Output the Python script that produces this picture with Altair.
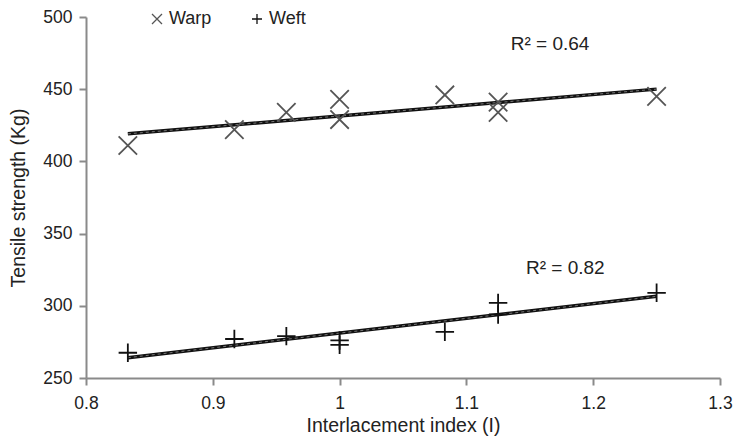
import altair as alt
import pandas as pd

# Data
warp_x = [0.833, 0.917, 0.958, 1.0, 1.0, 1.083, 1.125, 1.125, 1.25]
warp_y = [411, 422, 434, 443, 429, 446, 441, 434, 445]
weft_x = [0.833, 0.917, 0.958, 1.0, 1.0, 1.083, 1.125, 1.125, 1.25]
weft_y = [267.5, 277, 279, 276, 273, 282, 302, 294, 309]
r2_labels = ["R\u00b2 = 0.64", "R\u00b2 = 0.82"]
r2_x = [1.166, 1.178]
r2_y = [481, 326]

series = ["Warp", "Weft"]
df = pd.DataFrame(
    {"x": warp_x + weft_x,
     "y": warp_y + weft_y,
     "s": ["Warp"] * len(warp_x) + ["Weft"] * len(weft_x)}
)
lab = pd.DataFrame({"t": r2_labels, "x": r2_x, "y": r2_y})

FONT = "Liberation Sans"
X_PATH = "M-1,-1L1,1M1,-1L-1,1"
P_PATH = "M-1,0L1,0M0,-1L0,1"

xs = alt.Scale(domain=[0.8, 1.3], nice=False)
ys = alt.Scale(domain=[250, 500], nice=False, zero=False)

xenc = alt.X("x:Q", scale=xs, title="Interlacement index (I)",
             axis=alt.Axis(values=[0.8, 0.9, 1.0, 1.1, 1.2, 1.3], format="~g",
                           labelFlush=False, labelPadding=9, titlePadding=5))
yenc = alt.Y("y:Q", scale=ys, title="Tensile strength (Kg)",
             axis=alt.Axis(values=[250, 300, 350, 400, 450, 500],
                           labelFlush=False, labelPadding=7, titlePadding=14))

leg = alt.Legend(title=None, orient="none", legendX=62, legendY=-7,
                 direction="horizontal", symbolSize=100, padding=0,
                 symbolStrokeWidth=1.3, labelFontSize=18,
                 labelFont=FONT, labelColor="#222",
                 columnPadding=36, labelOffset=3)

base = alt.Chart(df)

lines = base.transform_regression("x", "y", groupby=["s"]).mark_line(
    color="#111", strokeWidth=3.5
).encode(x=xenc, y=yenc, detail="s:N")

dash = base.transform_regression("x", "y", groupby=["s"]).mark_line(
    color="#777", strokeWidth=1, strokeDash=[3, 3]
).encode(x=xenc, y=yenc, detail="s:N")

pts = base.mark_point(filled=False, strokeWidth=1.8, size=340, opacity=1).encode(
    x=xenc, y=yenc,
    shape=alt.Shape("s:N", scale=alt.Scale(domain=series, range=[X_PATH, P_PATH]),
                    legend=leg),
    color=alt.Color("s:N", scale=alt.Scale(domain=series, range=["#555", "#111"]),
                    legend=leg),
)

txt = alt.Chart(lab).mark_text(font=FONT, fontSize=19, color="#222").encode(
    x=alt.X("x:Q", scale=xs), y=alt.Y("y:Q", scale=ys), text="t:N"
)

chart = alt.layer(lines, dash, pts, txt).properties(
    width=634, height=361,
    autosize=alt.AutoSizeParams(type="none"),
    padding={"left": 78, "top": 9, "right": 13, "bottom": 60},
).configure_view(stroke=None).configure_axis(
    grid=False, domainColor="#8a8a8a", domainWidth=2, tickColor="#8a8a8a",
    tickWidth=2, tickSize=7, labelFont=FONT, labelFontSize=17.5, labelColor="#222",
    titleFont=FONT, titleFontSize=19.5, titleFontWeight="normal", titleColor="#222",
)

chart.save("out.html", embed_options={"renderer": "svg", "actions": False})
